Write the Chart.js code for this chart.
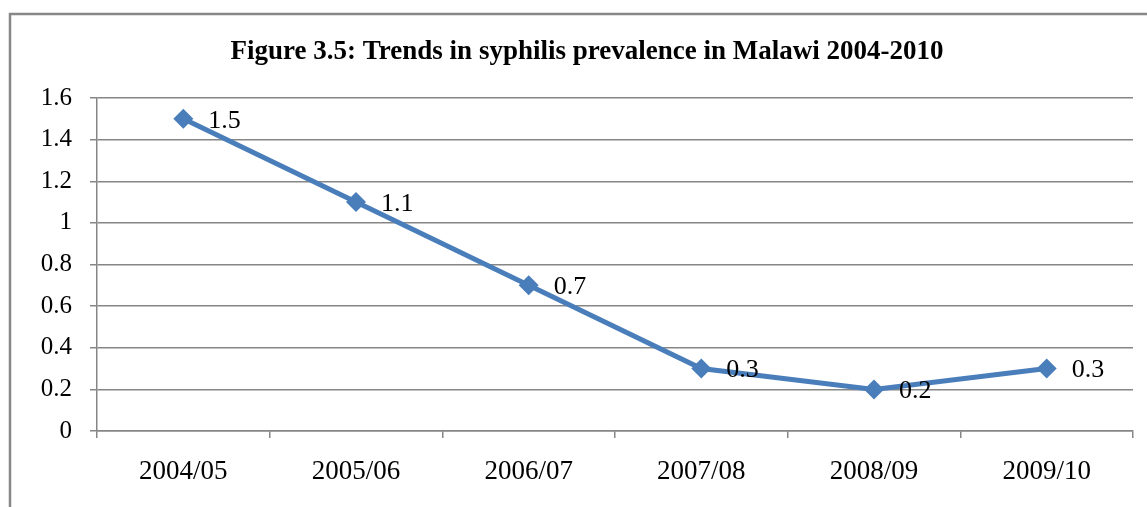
<!DOCTYPE html>
<html>
<head>
<meta charset="utf-8">
<script src="https://cdn.jsdelivr.net/npm/chart.js@4"></script>
<style>
  html, body { margin: 0; padding: 0; background: #fff; }
  #wrap { width: 1147px; height: 507px; position: relative; }
</style>
</head>
<body>
<div id="wrap"><canvas id="prevChart"></canvas></div>
<script>
// Syphilis prevalence by survey year
const years = ['2004/05', '2005/06', '2006/07', '2007/08', '2008/09', '2009/10'];
const prevalence = [1.5, 1.1, 0.7, 0.3, 0.2, 0.3];
const yTicks = [0, 0.2, 0.4, 0.6, 0.8, 1, 1.2, 1.4, 1.6];

const titleText = 'Figure 3.5: Trends in syphilis prevalence in Malawi 2004-2010';
const serif = '"Liberation Serif", "Times New Roman", serif';
const lineBlue = '#4a7ebb';
const axisGrey = '#868686';

// outer frame (only the top-left corner sits inside the canvas)
const framePlugin = {
    id: 'frame',
    beforeDraw(chart) {
        const c = chart.ctx;
        c.save();
        c.strokeStyle = '#878787';
        c.lineWidth = 2.5;
        c.strokeRect(10, 14, 1200, 600);
        c.restore();
    }
};

// bold heading above the plot
const headingPlugin = {
    id: 'heading',
    afterDraw(chart) {
        const c = chart.ctx;
        c.save();
        c.font = 'bold 27px ' + serif;
        c.fillStyle = '#000';
        c.textAlign = 'center';
        c.textBaseline = 'middle';
        c.fillText(titleText, 587, 52);
        c.restore();
    }
};

// value labels to the right of each marker
const valueLabels = {
    id: 'valueLabels',
    afterDatasetsDraw(chart) {
        const c = chart.ctx;
        const meta = chart.getDatasetMeta(0);
        c.save();
        c.font = '26px ' + serif;
        c.fillStyle = '#000';
        c.textAlign = 'left';
        c.textBaseline = 'middle';
        meta.data.forEach((pt, i) => {
            c.fillText(String(prevalence[i]), pt.x + 25, pt.y + 2);
        });
        c.restore();
    }
};

new Chart(document.getElementById('prevChart'), {
    type: 'line',
    data: {
        labels: years,
        datasets: [{
            data: prevalence,
            borderColor: lineBlue,
            backgroundColor: lineBlue,
            borderWidth: 5,
            pointStyle: 'rectRot',
            pointRadius: 10,
            pointHoverRadius: 10,
            pointBorderWidth: 0,
            pointBackgroundColor: lineBlue,
            tension: 0
        }]
    },
    options: {
        responsive: true,
        maintainAspectRatio: false,
        animation: false,
        events: [],
        layout: { padding: { top: 98, right: 14, bottom: 0, left: 0 } },
        plugins: {
            legend: { display: false },
            title: { display: false },
            tooltip: { enabled: false }
        },
        scales: {
            x: {
                offset: true,
                afterFit(scale) { scale.height = 76; },
                border: { color: axisGrey, width: 1.5 },
                grid: {
                    offset: true,
                    drawOnChartArea: false,
                    drawTicks: true,
                    tickLength: 7,
                    color: axisGrey,
                    lineWidth: 1.5
                },
                ticks: {
                    color: '#000',
                    font: { family: serif, size: 27 },
                    padding: 18,
                    maxRotation: 0
                }
            },
            y: {
                min: 0,
                max: 1.6,
                afterFit(scale) { scale.width = 97; },
                afterBuildTicks(scale) {
                    scale.ticks = yTicks.map(v => ({ value: v }));
                },
                border: { color: axisGrey, width: 1.5 },
                grid: {
                    color: axisGrey,
                    lineWidth: 1.5,
                    drawTicks: true,
                    tickLength: 7
                },
                ticks: {
                    color: '#000',
                    font: { family: serif, size: 25 },
                    padding: 18,
                    callback: v => String(v)
                }
            }
        }
    },
    plugins: [framePlugin, headingPlugin, valueLabels]
});
</script>
</body>
</html>
